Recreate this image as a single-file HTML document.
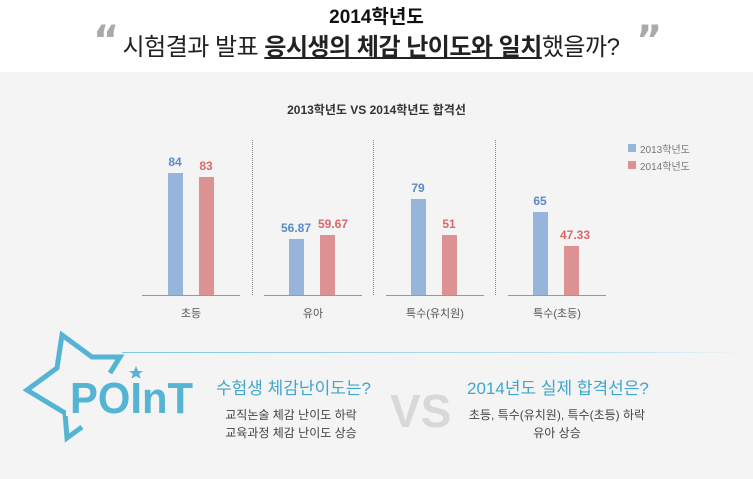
<!DOCTYPE html><html><head><meta charset="utf-8"><style>
body{margin:0;width:753px;height:479px;overflow:hidden;background:#fff;font-family:"Liberation Sans","Noto Sans CJK KR",sans-serif;position:relative}
.a{position:absolute;white-space:nowrap}
.bar{position:absolute;width:15px}
.b{background:#97b5db}.r{background:#dc9293}
.vb{position:absolute;font-size:12px;font-weight:bold;width:40px;text-align:center}
.cb{color:#5b8ac8}.cr{color:#d9686a}
.base{position:absolute;top:295px;height:1px;background:#999;width:98px}
.cat{position:absolute;top:305px;font-size:11px;color:#555;width:98px;text-align:center}
.sep{position:absolute;top:140px;height:155px;border-left:1px dotted #888}
</style></head><body>
<div class="a" style="left:0;width:753px;top:2px;text-align:center;font-size:19px;font-weight:bold;color:#111">2014학년도</div>
<div class="a" style="left:116px;width:510px;top:27px;text-align:center;font-size:24px;color:#222;letter-spacing:-0.5px">시험결과 발표 <b style="text-decoration:underline">응시생의 체감 난이도와 일치</b>했을까?</div>
<div class="a" style="left:93px;top:18px;font-size:40px;color:#aaa;font-family:'DejaVu Sans',sans-serif;font-weight:bold">“</div>
<div class="a" style="left:636px;top:18px;font-size:40px;color:#aaa;font-family:'DejaVu Sans',sans-serif;font-weight:bold">”</div>
<div style="position:absolute;left:0;top:72px;width:753px;height:407px;background:#f4f4f4"></div>
<div class="a" style="left:0;width:753px;top:101px;text-align:center;font-size:12px;font-weight:bold;color:#333">2013학년도 VS 2014학년도 합격선</div>
<div class="sep" style="left:252px"></div><div class="sep" style="left:373px"></div><div class="sep" style="left:495px"></div>
<div class="base" style="left:142px"></div><div class="base" style="left:264px"></div><div class="base" style="left:386px"></div><div class="base" style="left:508px"></div>
<div class="cat" style="left:142px">초등</div><div class="cat" style="left:264px">유아</div><div class="cat" style="left:386px">특수(유치원)</div><div class="cat" style="left:508px">특수(초등)</div>
<div class="bar b" style="left:168px;top:173px;height:122px"></div><div class="bar r" style="left:199px;top:177px;height:118px"></div>
<div class="bar b" style="left:289px;top:239px;height:56px"></div><div class="bar r" style="left:320px;top:235px;height:60px"></div>
<div class="bar b" style="left:411px;top:199px;height:96px"></div><div class="bar r" style="left:442px;top:235px;height:60px"></div>
<div class="bar b" style="left:533px;top:212px;height:83px"></div><div class="bar r" style="left:564px;top:246px;height:49px"></div>
<div class="vb cb" style="left:155px;top:155px">84</div><div class="vb cr" style="left:186px;top:159px">83</div>
<div class="vb cb" style="left:276px;top:221px">56.87</div><div class="vb cr" style="left:313px;top:217px">59.67</div>
<div class="vb cb" style="left:398px;top:181px">79</div><div class="vb cr" style="left:429px;top:217px">51</div>
<div class="vb cb" style="left:520px;top:194px">65</div><div class="vb cr" style="left:555px;top:228px">47.33</div>
<div style="position:absolute;left:628px;top:144px;width:8px;height:8px;background:#97b5db"></div><div class="a" style="left:640px;top:141px;font-size:10px;color:#777">2013학년도</div>
<div style="position:absolute;left:628px;top:161px;width:8px;height:8px;background:#dc9293"></div><div class="a" style="left:640px;top:158px;font-size:10px;color:#777">2014학년도</div>
<div style="position:absolute;left:122px;top:352px;width:626px;height:1px;background:linear-gradient(90deg,#7fc6e0,#bfe3f0 80%,#f4f4f4)"></div>
<svg style="position:absolute;left:0;top:330px" width="210" height="120">
<polyline points="110,43 120,27 92,27 62,5 57,38 27,60 65,83 67,108 82,97" fill="none" stroke="#55b4d4" stroke-width="5" stroke-linejoin="miter"/>
<polygon points="136,36 138,41 143,41 139,44 141,49 136,46 131,49 133,44 129,41 134,41" fill="#55b4d4"/>
<rect x="66" y="48" width="130" height="38" fill="#f4f4f4"/>
<text x="70" y="83" font-family="Liberation Sans,sans-serif" font-weight="bold" font-size="44" fill="#55b4d4" textLength="123" lengthAdjust="spacingAndGlyphs">POInT</text></svg>
<div class="a" style="left:216px;top:374px;font-size:17px;color:#3fa6cc">수험생 체감난이도는?</div>
<div class="a" style="left:206px;top:406px;width:170px;text-align:center;font-size:12px;color:#444;line-height:18px">교직논술 체감 난이도 하락<br>교육과정 체감 난이도 상승</div>
<div class="a" style="left:390px;top:384px;font-size:46px;color:#d8d8d8;font-weight:bold">VS</div>
<div class="a" style="left:467px;top:374px;font-size:17px;color:#3fa6cc">2014년도 실제 합격선은?</div>
<div class="a" style="left:462px;top:406px;width:190px;text-align:center;font-size:12px;color:#444;line-height:18px">초등, 특수(유치원), 특수(초등) 하락<br>유아 상승</div>
</body></html>
